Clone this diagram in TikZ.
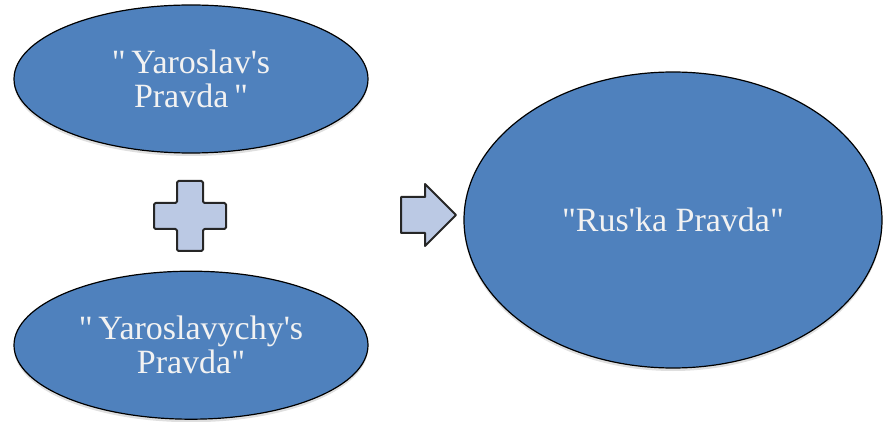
\documentclass[tikz,border=0pt]{standalone}
\usepackage{fontspec}
\setmainfont{Liberation Serif}[Ligatures=TeXOff]
\usetikzlibrary{positioning, shapes.geometric, shapes.arrows, shadows}

\definecolor{ovalblue}{RGB}{79,129,189}
\definecolor{signfill}{RGB}{187,201,228}
\definecolor{signline}{RGB}{38,38,38}
\definecolor{ovaltext}{RGB}{242,242,242}

\begin{document}
\begin{tikzpicture}[
        x=1pt, y=1pt,
        font=\fontsize{34}{34}\selectfont,
        oval/.style={
            ellipse,
            draw=black,
            line width=1.2pt,
            fill=ovalblue,
            text=ovaltext,
            align=center,
            inner sep=0pt,
            minimum width=354pt,
            minimum height=148pt,
            drop shadow={opacity=0.25, shadow xshift=0pt, shadow yshift=-3pt}
        },
        sign/.style={
            draw=signline,
            fill=signfill,
            line width=2pt,
            line join=round
        }
    ]

    \useasboundingbox (0,0) rectangle (884,421);

    \node[oval] (yaroslav) at (191,342) {"\,Yaroslav's\\Pravda\,"};

    \node[oval, below=117pt of yaroslav] (sons) {"\,Yaroslavychy's\\Pravda"};

    \node[oval, minimum width=418pt, minimum height=296pt] (ruska) at (673,201) {"Rus'ka Pravda"};

    % plus sign between the two left ovals
    \coordinate (plus) at (190,205);
    \draw[sign, shift={(plus)}, rounded corners=1.5pt]
        (-13,35) -- (13,35) -- (13,13) -- (36,13) -- (36,-13) -- (13,-13)
        -- (13,-35) -- (-13,-35) -- (-13,-13) -- (-36,-13) -- (-36,13)
        -- (-13,13) -- cycle;

    % block arrow towards the result
    \node[sign, single arrow, minimum height=55pt, inner sep=17pt,
          single arrow head extend=13pt] (arrow) at (419.5,206) {};

    \end{tikzpicture}
\end{document}
